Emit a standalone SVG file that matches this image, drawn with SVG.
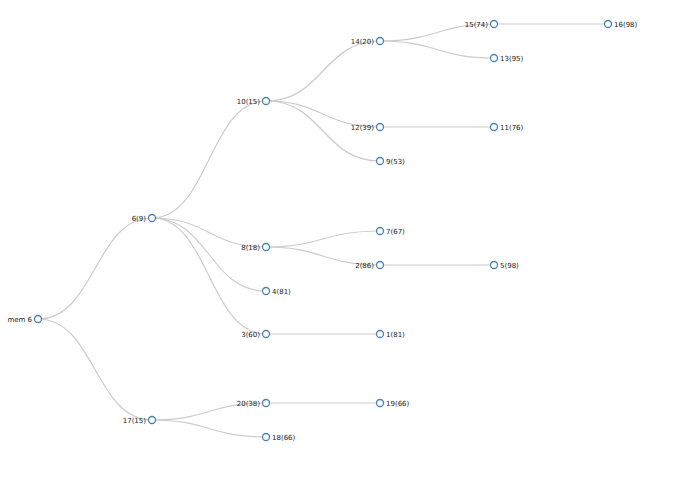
<svg xmlns="http://www.w3.org/2000/svg" width="695" height="494" viewBox="0 0 695 494">
<style>
.l{fill:none;stroke:#ccc;stroke-width:1.2}
circle{fill:#fff;stroke:#4682b4;stroke-width:1.3}
text{font-family:"DejaVu Sans",sans-serif;font-size:7px;fill:#222}
.e{text-anchor:end}
</style>
<rect width="695" height="494" fill="#fff"/>
<g id="links">
<path class="l" d="M38,319C95,319 95,218 152,218"/>
<path class="l" d="M38,319C95,319 95,420 152,420"/>
<path class="l" d="M152,218C209,218 209,101 266,101"/>
<path class="l" d="M152,218C209,218 209,247 266,247"/>
<path class="l" d="M152,218C209,218 209,291 266,291"/>
<path class="l" d="M152,218C209,218 209,334 266,334"/>
<path class="l" d="M152,420C209,420 209,403 266,403"/>
<path class="l" d="M152,420C209,420 209,437 266,437"/>
<path class="l" d="M266,101C323,101 323,41 380,41"/>
<path class="l" d="M266,101C323,101 323,127 380,127"/>
<path class="l" d="M266,101C323,101 323,161 380,161"/>
<path class="l" d="M266,247C323,247 323,231 380,231"/>
<path class="l" d="M266,247C323,247 323,265 380,265"/>
<path class="l" d="M266,334L380,334"/>
<path class="l" d="M266,403L380,403"/>
<path class="l" d="M380,41C437,41 437,24 494,24"/>
<path class="l" d="M380,41C437,41 437,58 494,58"/>
<path class="l" d="M380,127L494,127"/>
<path class="l" d="M380,265L494,265"/>
<path class="l" d="M494,24L608,24"/>
</g>
<g id="n-root"><circle cx="38" cy="319" r="3.5"/><text class="e" x="32" y="321.5">mem 6</text></g>
<g id="n6"><circle cx="152" cy="218" r="3.5"/><text class="e" x="146" y="220.5">6(9)</text></g>
<g id="n17"><circle cx="152" cy="420" r="3.5"/><text class="e" x="146" y="422.5">17(15)</text></g>
<g id="n10"><circle cx="266" cy="101" r="3.5"/><text class="e" x="260" y="103.5">10(15)</text></g>
<g id="n8"><circle cx="266" cy="247" r="3.5"/><text class="e" x="260" y="249.5">8(18)</text></g>
<g id="n4"><circle cx="266" cy="291" r="3.5"/><text x="272" y="293.5">4(81)</text></g>
<g id="n3"><circle cx="266" cy="334" r="3.5"/><text class="e" x="260" y="336.5">3(60)</text></g>
<g id="n20"><circle cx="266" cy="403" r="3.5"/><text class="e" x="260" y="405.5">20(38)</text></g>
<g id="n18"><circle cx="266" cy="437" r="3.5"/><text x="272" y="439.5">18(66)</text></g>
<g id="n14"><circle cx="380" cy="41" r="3.5"/><text class="e" x="374" y="43.5">14(20)</text></g>
<g id="n12"><circle cx="380" cy="127" r="3.5"/><text class="e" x="374" y="129.5">12(39)</text></g>
<g id="n9"><circle cx="380" cy="161" r="3.5"/><text x="386" y="163.5">9(53)</text></g>
<g id="n7"><circle cx="380" cy="231" r="3.5"/><text x="386" y="233.5">7(67)</text></g>
<g id="n2"><circle cx="380" cy="265" r="3.5"/><text class="e" x="374" y="267.5">2(86)</text></g>
<g id="n1"><circle cx="380" cy="334" r="3.5"/><text x="386" y="336.5">1(81)</text></g>
<g id="n19"><circle cx="380" cy="403" r="3.5"/><text x="386" y="405.5">19(66)</text></g>
<g id="n15"><circle cx="494" cy="24" r="3.5"/><text class="e" x="488" y="26.5">15(74)</text></g>
<g id="n13"><circle cx="494" cy="58" r="3.5"/><text x="500" y="60.5">13(95)</text></g>
<g id="n11"><circle cx="494" cy="127" r="3.5"/><text x="500" y="129.5">11(76)</text></g>
<g id="n5"><circle cx="494" cy="265" r="3.5"/><text x="500" y="267.5">5(98)</text></g>
<g id="n16"><circle cx="608" cy="24" r="3.5"/><text x="614" y="26.5">16(98)</text></g>
</svg>
